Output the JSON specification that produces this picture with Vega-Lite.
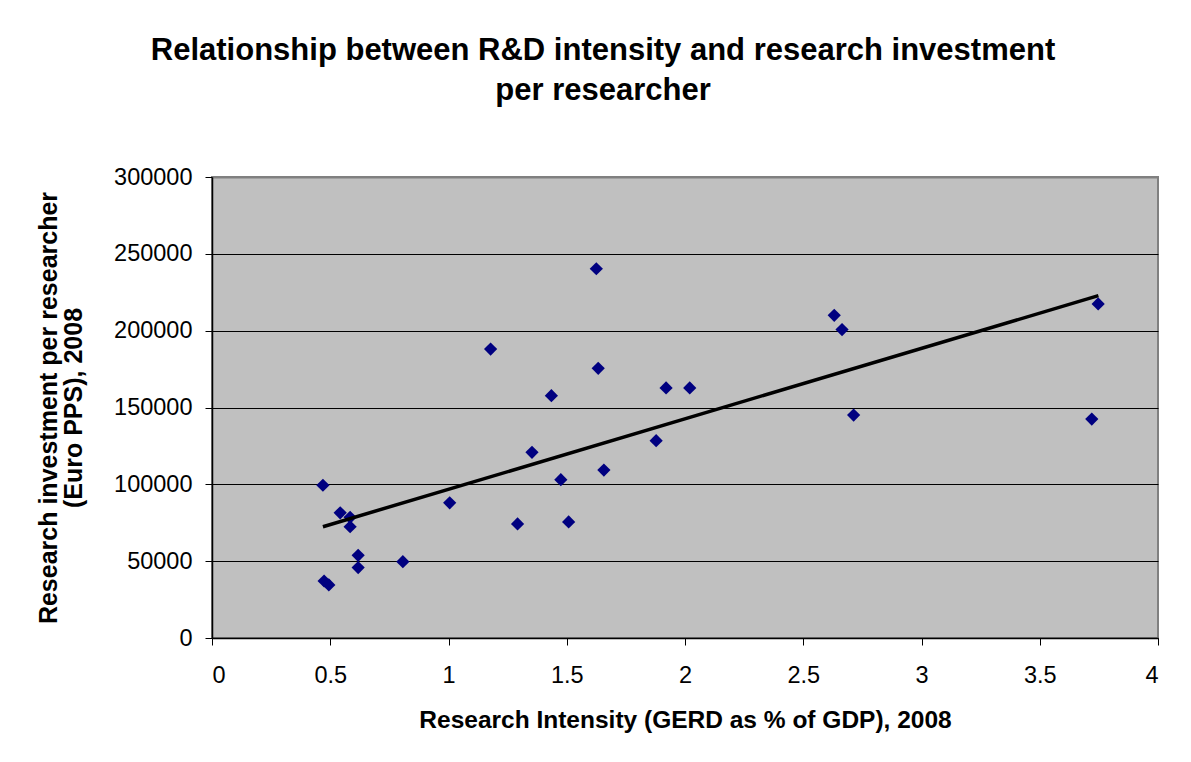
{
  "$schema": "https://vega.github.io/schema/vega-lite/v6.json",
  "autosize": "none",
  "width": 946,
  "height": 461,
  "padding": {"left": 212, "top": 177, "right": 33, "bottom": 124},
  "background": "white",
  "title": {
    "text": ["Relationship between R&D intensity and research investment", "per researcher"],
    "font": "Liberation Sans",
    "fontSize": 31,
    "fontWeight": "bold",
    "color": "black",
    "anchor": "middle",
    "baseline": "bottom",
    "lineHeight": 40,
    "offset": 27,
    "dx": -82
  },
  "config": {
    "view": {"fill": "#c0c0c0", "stroke": "#808080", "strokeWidth": 2},
    "axis": {
      "labelFont": "Liberation Sans",
      "titleFont": "Liberation Sans",
      "labelColor": "black",
      "titleColor": "black",
      "domainColor": "black",
      "domainWidth": 1.5,
      "tickColor": "black",
      "tickSize": 7,
      "labelFontSize": 23.5,
      "titleFontSize": 24.5,
      "titleFontWeight": "bold"
    }
  },
  "datasets": {
    "points": [
      {"intensity": 0.469, "investment": 99400},
      {"intensity": 0.474, "investment": 37100},
      {"intensity": 0.494, "investment": 34500},
      {"intensity": 0.542, "investment": 81500},
      {"intensity": 0.584, "investment": 78500},
      {"intensity": 0.584, "investment": 72400},
      {"intensity": 0.618, "investment": 53800},
      {"intensity": 0.618, "investment": 45800},
      {"intensity": 0.807, "investment": 49700},
      {"intensity": 1.005, "investment": 88000},
      {"intensity": 1.178, "investment": 188000},
      {"intensity": 1.292, "investment": 74200},
      {"intensity": 1.353, "investment": 120800},
      {"intensity": 1.435, "investment": 157700},
      {"intensity": 1.475, "investment": 103000},
      {"intensity": 1.508, "investment": 75500},
      {"intensity": 1.625, "investment": 240300},
      {"intensity": 1.633, "investment": 175500},
      {"intensity": 1.657, "investment": 109300},
      {"intensity": 1.878, "investment": 128400},
      {"intensity": 1.920, "investment": 162700},
      {"intensity": 2.020, "investment": 162700},
      {"intensity": 2.631, "investment": 210000},
      {"intensity": 2.664, "investment": 200700},
      {"intensity": 2.713, "investment": 145100},
      {"intensity": 3.720, "investment": 142500},
      {"intensity": 3.747, "investment": 217400}
    ],
    "trend": [
      {"intensity": 0.469, "investment": 72430},
      {"intensity": 3.748, "investment": 222770}
    ]
  },
  "layer": [
    {
      "data": {"name": "points"},
      "mark": {"type": "point", "shape": "diamond", "filled": true, "size": 175, "color": "#000080", "opacity": 1},
      "encoding": {
        "x": {
          "field": "intensity",
          "type": "quantitative",
          "scale": {"domain": [0, 4], "nice": false},
          "axis": {
            "values": [0, 0.5, 1, 1.5, 2, 2.5, 3, 3.5, 4],
            "format": "~g",
            "grid": false,
            "labelPadding": 18,
            "titlePadding": 22,
            "title": "Research Intensity (GERD as % of GDP), 2008"
          }
        },
        "y": {
          "field": "investment",
          "type": "quantitative",
          "scale": {"domain": [0, 300000], "nice": false},
          "axis": {
            "values": [0, 50000, 100000, 150000, 200000, 250000, 300000],
            "format": "d",
            "grid": true,
            "gridColor": {"condition": {"test": "datum.value === 300000", "value": "#808080"}, "value": "black"},
            "gridWidth": {"condition": {"test": "datum.value === 300000", "value": 2}, "value": 1},
            "labelPadding": 13,
            "titlePadding": 27,
            "titleLineHeight": 25,
            "titleFontSize": 25,
            "title": ["Research investment per researcher", "(Euro PPS), 2008"]
          }
        }
      }
    },
    {
      "data": {"name": "trend"},
      "mark": {"type": "line", "color": "black", "strokeWidth": 3.5},
      "encoding": {
        "x": {"field": "intensity", "type": "quantitative"},
        "y": {"field": "investment", "type": "quantitative"}
      }
    }
  ]
}
